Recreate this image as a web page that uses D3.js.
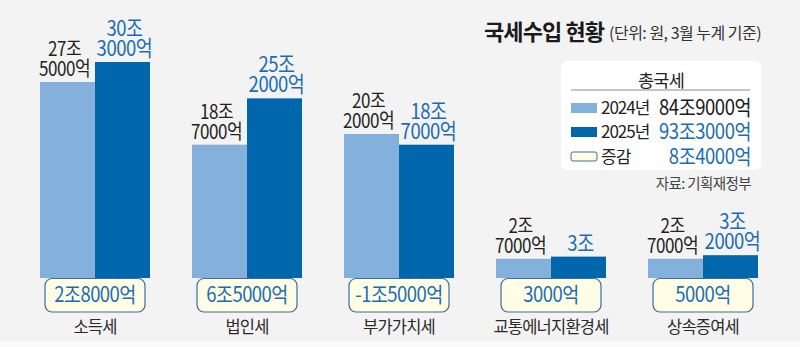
<!DOCTYPE html>
<html><head><meta charset="utf-8">
<script src="https://cdn.jsdelivr.net/npm/d3@7"></script>
<style>
html,body{margin:0;padding:0;background:#f3f3f3;}
svg{display:block;font-family:"Noto Sans CJK KR","Noto Sans",sans-serif;}
</style></head>
<body>
<script>
const categories = ["소득세","법인세","부가가치세","교통에너지환경세","상속증여세"];
const values2024 = [27.5, 18.7, 20.2, 2.7, 2.7];
const values2025 = [30.3, 25.2, 18.7, 3.0, 3.2];
const labels2024 = [["27조","5000억"],["18조","7000억"],["20조","2000억"],["2조","7000억"],["2조","7000억"]];
const labels2025 = [["30조","3000억"],["25조","2000억"],["18조","7000억"],["3조"],["3조","2000억"]];
const diffLabels = ["2조8000억","6조5000억","-1조5000억","3000억","5000억"];
const legendRows = [["2024년","84조9000억"],["2025년","93조3000억"],["증감","8조4000억"]];

const W=800,H=347;
const cLight="#84b0dc", cDark="#0067ac", cBlueText="#1c6db0", cBoxFill="#fffde6", cBoxStroke="#3d6e96";

const svg=d3.select("body").append("svg").attr("width",W).attr("height",H);
svg.append("rect").attr("width",W).attr("height",H).attr("fill","#f3f3f3");
svg.append("rect").attr("y",341).attr("width",W).attr("height",6).attr("fill","#fafafa");

const x=d3.scaleBand().domain(categories).range([40,758]).paddingInner(42/152).paddingOuter(0);
const sub=d3.scaleBand().domain(["2024","2025"]).range([0,x.bandwidth()]).padding(0);
const y=d3.scaleLinear().domain([0,30.3]).range([278,62]);

const g=svg.append("g");
const groups=g.selectAll("g.grp").data(categories).join("g").attr("class","grp")
  .attr("transform",d=>`translate(${x(d)},0)`);

groups.append("rect").attr("x",sub("2024")).attr("width",sub.bandwidth())
  .attr("y",(d,i)=>y(values2024[i])).attr("height",(d,i)=>y(0)-y(values2024[i])).attr("fill",cLight);
groups.append("rect").attr("x",sub("2025")).attr("width",sub.bandwidth())
  .attr("y",(d,i)=>y(values2025[i])).attr("height",(d,i)=>y(0)-y(values2025[i])).attr("fill",cDark);

function addLabel(sel, lines, cx, top, color, size, sx, gap){
  const n=lines.length;
  const t=sel.append("g").attr("transform",`translate(${cx},0) scale(${sx},1)`)
    .append("text").attr("text-anchor","middle").attr("fill",color).attr("font-size",size)
    .attr("letter-spacing",-0.5);
  lines.forEach((s,k)=>{
    t.append("tspan").attr("x",0).attr("y",top-gap-(n-1-k)*20).text(s);
  });
}
groups.each(function(d,i){
  const s=d3.select(this);
  addLabel(s,labels2024[i],sub("2024")+sub.bandwidth()/2-3,y(values2024[i]),"#222",20,0.85,6);
  addLabel(s,labels2025[i],sub("2025")+sub.bandwidth()/2+2,y(values2025[i]),cBlueText,21.5,0.86,6);
  const cx=x.bandwidth()/2;
  s.append("rect").attr("x",cx-50).attr("y",278.5).attr("width",100).attr("height",33.5)
    .attr("rx",7).attr("fill",cBoxFill).attr("stroke",cBoxStroke).attr("stroke-width",1.2);
  s.append("g").attr("transform",`translate(${cx},0) scale(0.88,1)`)
    .append("text").attr("x",0).attr("y",302.5).attr("text-anchor","middle").attr("fill",cBlueText)
    .attr("font-size",21).attr("letter-spacing",-0.6).text(diffLabels[i]);
  s.append("text").attr("x",cx).attr("y",333).attr("text-anchor","middle").attr("fill","#2a2a2a")
    .attr("font-size",16.5).attr("letter-spacing",-0.8).text(d);
});

// Title
svg.append("text").attr("x",484).attr("y",40).attr("font-size",22).attr("font-weight",700)
  .attr("fill","#1a1a1a").attr("letter-spacing",-0.9).text("국세수입 현황");
svg.append("text").attr("x",609).attr("y",39).attr("font-size",16).attr("fill","#333")
  .attr("letter-spacing",-0.5).text("(단위: 원, 3월 누계 기준)");

// Legend box
const lg=svg.append("g");
lg.append("rect").attr("x",561).attr("y",61).attr("width",200).attr("height",109).attr("rx",6).attr("fill","#fff");
lg.append("text").attr("x",661).attr("y",87).attr("text-anchor","middle").attr("font-size",17.5)
  .attr("fill","#222").attr("letter-spacing",-0.8).text("총국세");
lg.append("line").attr("x1",571).attr("x2",750).attr("y1",90).attr("y2",90).attr("stroke","#8a8a8a").attr("stroke-width",1);
const rowY=[108,132,157];
legendRows.forEach((r,i)=>{
  const fill=[cLight,cDark,cBoxFill][i];
  lg.append("rect").attr("x",571).attr("y",rowY[i]-5).attr("width",26).attr("height",i==2?9:10)
    .attr("rx",i==2?2:0).attr("fill",fill).attr("stroke",i==2?cBoxStroke:"none").attr("stroke-width",1);
  lg.append("text").attr("x",601).attr("y",rowY[i]+6).attr("font-size",17).attr("fill","#222")
    .attr("letter-spacing",-1).text(r[0]);
  lg.append("g").attr("transform","translate(751,0) scale(0.88,1)")
    .append("text").attr("x",0).attr("y",rowY[i]+7).attr("text-anchor","end").attr("font-size",21)
    .attr("fill",i==0?"#1a1a1a":cBlueText).attr("letter-spacing",-0.5).text(r[1]);
});
svg.append("text").attr("x",751).attr("y",189).attr("text-anchor","end").attr("font-size",14.5)
  .attr("fill","#444").attr("letter-spacing",-0.6).text("자료: 기획재정부");
</script>
</body></html>
